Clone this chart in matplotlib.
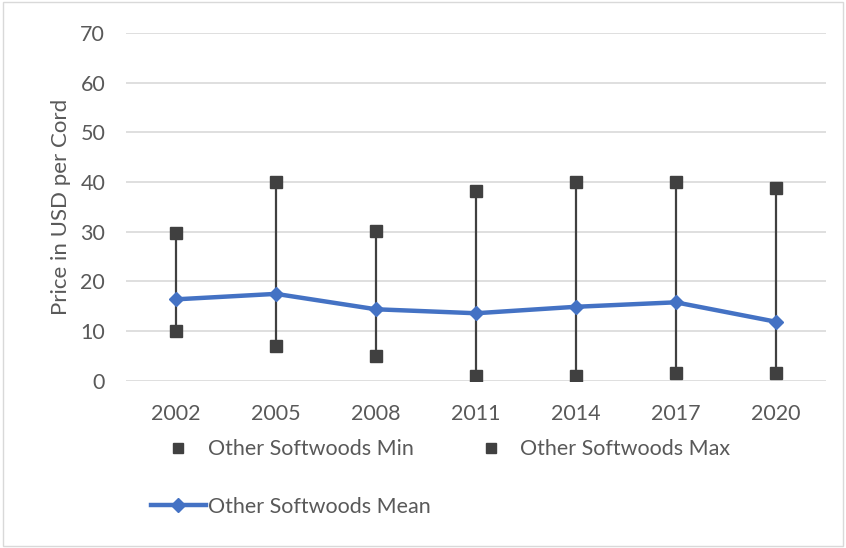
import numpy as np
import matplotlib.pyplot as plt
from matplotlib.lines import Line2D

years = ["2002", "2005", "2008", "2011", "2014", "2017", "2020"]
price_min = [10.0, 7.0, 5.0, 1.0, 1.0, 1.5, 1.5]
price_max = [29.7, 40.0, 30.1, 38.1, 40.0, 40.0, 38.8]
price_mean = [16.4, 17.5, 14.4, 13.6, 14.9, 15.8, 11.9]

plt.rcParams['font.family'] = ['Lato', 'DejaVu Sans']

text_col = "#595959"
dark = "#404040"
blue = "#4472C4"


def main():
    fig = plt.figure(figsize=(8.46, 5.48), dpi=100)
    ax = fig.add_axes([0.149, 0.305, 0.827, 0.635])

    x = np.arange(len(years))

    # high-low lines
    ax.vlines(x, price_min, price_max, color=dark, linewidth=1.6, zorder=2)

    ax.plot(x, price_min, "s", color=dark, markersize=8, linestyle="none", zorder=4)
    ax.plot(x, price_max, "s", color=dark, markersize=8, linestyle="none", zorder=4)
    ax.plot(x, price_mean, "-D", color=blue, linewidth=3.2, markersize=7, zorder=3)

    ax.set_xlim(-0.5, len(years) - 0.5)
    ax.set_ylim(0, 70)
    ax.set_yticks(range(0, 71, 10))
    ax.set_xticks(x)
    ax.set_xticklabels(years)

    ax.grid(axis="y", color="#D9D9D9", linewidth=1.2)
    ax.set_axisbelow(True)
    for s in ax.spines.values():
        s.set_visible(False)
    ax.tick_params(length=0, labelsize=15.5, colors=text_col, pad=17)
    ax.tick_params(axis="y", pad=15)
    ax.set_ylabel("Price in USD per Cord", fontsize=16, color=text_col, labelpad=7)

    # legend proxies (smaller squares like the original)
    h_min = Line2D([], [], marker="s", color=dark, markersize=6.5, linestyle="none")
    h_max = Line2D([], [], marker="s", color=dark, markersize=6.5, linestyle="none")
    h_mean = Line2D([], [], marker="D", color=blue, linewidth=3.2, markersize=7)
    fig.legend(handles=[h_min, h_mean, h_max],
               labels=["Other Softwoods Min", "Other Softwoods Mean", "Other Softwoods Max"],
               ncol=2, frameon=False, fontsize=15.5,
               labelcolor=text_col, loc="upper left", bbox_to_anchor=(0.155, 0.234),
               handlelength=2.6, handletextpad=0.05, columnspacing=1.5,
               labelspacing=1.75)

    fig.add_artist(plt.Rectangle((0.003, 0.004), 0.994, 0.992, fill=False,
                                 edgecolor="#D9D9D9", linewidth=1,
                                 transform=fig.transFigure))

    fig.savefig("out.png", dpi=100)


if __name__ == "__main__":
    main()
